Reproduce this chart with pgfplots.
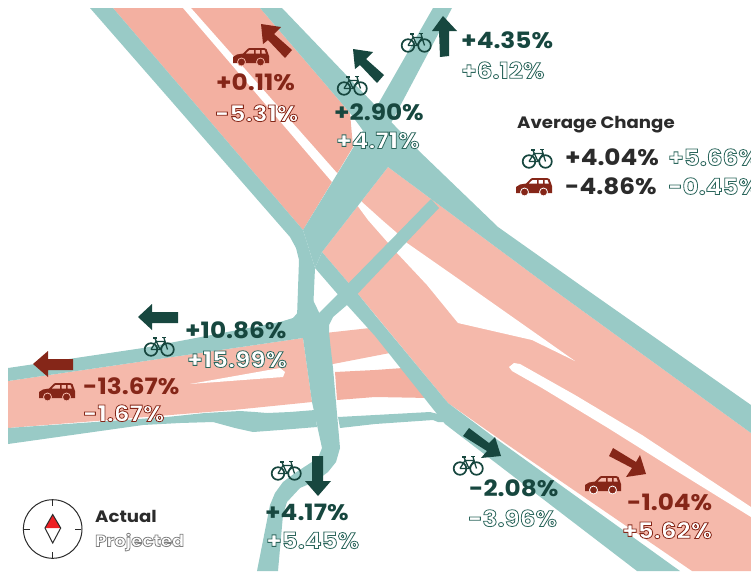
\documentclass[border=0pt]{standalone}
\usepackage{pgfplots}
\pgfplotsset{compat=1.18}
\usepackage{fontspec}
\setmainfont{Poppins}[FakeStretch=1.1]
\definecolor{roadc}{HTML}{99CAC6}
\definecolor{pinkA}{HTML}{F3B0A1}
\definecolor{pinkB}{HTML}{F5B9AB}
\definecolor{gr}{HTML}{17473F}
\definecolor{rd}{HTML}{852618}
\definecolor{ink}{HTML}{2B2B2B}
\definecolor{flag}{HTML}{EE2024}

% filled shape in picture pixels
\newcommand\shape[2]{\addplot[fill=#1,draw=none,forget plot] coordinates {#2} --cycle;}

% text with white fill and a thin outline (rgb as pdf numbers)
\newcommand\outl[2]{{\color{white}\special{pdf:code 2 Tr 0.8 w}\special{pdf:code #1 RG}#2\special{pdf:code 0 Tr}}}
\def\grline{0.17 0.40 0.36}
\def\rdline{0.52 0.15 0.09}
\def\gyline{0.50 0.50 0.50}

% x, y (baseline), size, text
\newcommand\lab[4]{\node[anchor=base west,inner sep=0pt,yshift=-0.5pt,font=\fontsize{#3}{#3}\selectfont\bfseries] at (axis cs:#1,#2) {#4};}

\newcommand\bike[3]{%
\begin{scope}[shift={(axis cs:#1,#2)},draw=#3,line width=1.7pt]
  \draw (-8pt,-3.5pt) circle [radius=6.3pt];
  \draw (8.5pt,-3.5pt) circle [radius=6.3pt];
  \draw[line width=1.3pt] (-8pt,-3.5pt) -- (-3pt,4.5pt) -- (6pt,4.5pt) -- (8.5pt,-3.5pt);
  \draw[line width=1.3pt] (-8pt,-3.5pt) -- (1pt,-3.5pt) -- (6pt,4.5pt);
  \draw[line width=1.3pt] (-4pt,7.5pt) -- (1pt,-3.5pt);
  \draw[line width=1.3pt] (6pt,4.5pt) -- (5pt,8pt);
  \draw[line width=1.7pt] (-6pt,8pt) -- (-2pt,8pt);
  \draw[line width=1.7pt] (3pt,8.5pt) -- (7pt,8.5pt);
\end{scope}}

\newcommand\car[4]{%
\begin{scope}[shift={(axis cs:#1,#2)}]
  \fill[#3,even odd rule] (-18pt,-6pt) -- (-18pt,0pt) -- (-14pt,2.5pt) -- (-8pt,3.5pt) -- (-3pt,8.5pt) -- (-1pt,9pt)
    -- (13pt,9pt) -- (15.5pt,8pt) -- (18pt,1pt) -- (18pt,-6pt) -- cycle
    (-5.5pt,3.5pt) -- (-1.5pt,7.2pt) -- (3pt,7.2pt) -- (3pt,3.5pt) -- cycle
    (4.5pt,3.5pt) -- (4.5pt,7.2pt) -- (9pt,7.2pt) -- (9pt,3.5pt) -- cycle
    (10.5pt,3.5pt) -- (10.5pt,7.2pt) -- (13.5pt,7.2pt) -- (15pt,3.5pt) -- cycle;
  \filldraw[fill=#3,draw=#4,line width=0.8pt] (-9.5pt,-5pt) circle [radius=4pt];
  \filldraw[fill=#3,draw=#4,line width=0.8pt] (9.5pt,-5pt) circle [radius=4pt];
\end{scope}}

\begin{document}
\begin{tikzpicture}
\useasboundingbox (0,0) rectangle (751pt,571pt);
\clip (0,0) rectangle (751pt,571pt);
\begin{axis}[
    at={(0,0)}, anchor=south west,
    width=751pt, height=571pt, scale only axis,
    xmin=0, xmax=751, ymin=0, ymax=571, y dir=reverse,
    hide axis,
]
% pink carriageways
\shape{pinkA}{(113,8) (260,8) (350,113) (353,147) (303,230)}
\shape{pinkB}{(322,252) (388,167) (547,285) (751,433) (751,571) (692,571) (508,445) (448,403) (358,294)}
\shape{pinkB}{(8,381) (303,338) (312,402) (233,410) (8,428)}
\shape{pinkB}{(325,333) (370,328) (395,352) (333,364) (325,364)}
\shape{pinkA}{(335,372) (375,370) (403,368) (430,398) (375,397) (337,400)}
% medians
\shape{white}{(183,8) (191,8) (337,173) (362,202) (382,220) (397,233) (407,243) (460,280) (467,285) (575,361) (532,340) (458,323) (427,285) (397,253) (368,220) (357,205) (332,182)}
\shape{white}{(514,363) (520,364) (575,395) (642,435) (751,507) (751,517) (675,470) (608,428) (542,388) (512,371) (509,367)}
\shape{white}{(190,384) (280,368) (285,372) (283,377)}
% cycle tracks
\shape{roadc}{(90,8) (113,8) (303,230) (315,268) (313,312) (300,330) (297,317) (299,260) (296,248) (290,237)}
\shape{roadc}{(433,8) (452,8) (390,125) (388,167) (322,252) (315,268) (303,230) (353,148)}
\shape{roadc}{(260,8) (282,8) (418,150) (498,227) (580,285) (751,405) (751,433) (547,285) (388,167) (370,140) (350,113)}
\shape{roadc}{(431,199) (439,208) (347,305) (333,317) (329,325) (329,340) (313,340) (313,312) (318,314) (337,295)}
\shape{roadc}{(322,252) (358,294) (375,315) (448,403) (495,438) (680,571) (637,571) (445,424) (375,336) (347,305) (315,268)}
\shape{roadc}{(299,300) (303,338) (312,402) (322,448) (318,458) (295,473) (283,482) (275,493) (270,505) (257,571) (278,571) (283,515) (287,502) (300,488) (316,481) (328,472) (336,462) (340,448) (338,425) (333,368) (329,333) (313,300)}
\shape{roadc}{(8,368) (143,348) (280,322) (293,318) (300,310) (313,325) (303,338) (8,381)}
\shape{roadc}{(8,428) (167,417) (205,413) (240,411) (255,412) (267,413) (290,412) (315,410) (317,427) (280,430) (253,432) (235,428) (213,422) (180,423) (143,425) (8,444)}
\shape{roadc}{(338,417) (375,415) (430,412) (438,414) (446,422) (438,422) (433,420) (375,424) (340,428)}
% arrows
\shape{rd}{(261,24) (281,27) (274,34) (292,50) (285,58) (268,40) (263,44)}
\shape{gr}{(353,49) (373,52) (366,59) (384,75) (377,83) (360,65) (355,69)}
\shape{gr}{(443,16) (457,31) (449,31) (449,56) (440,57) (439,31) (432,31)}
\shape{gr}{(138,317) (152,304) (152,312) (178,312) (178,323) (152,323) (152,330)}
\shape{rd}{(33,364) (48,351) (48,359) (73,359) (73,370) (48,370) (48,377)}
\shape{gr}{(312,456) (323,456) (323,481) (331,481) (318,496) (305,481) (312,481)}
\shape{gr}{(469,428) (489,443) (495,437) (501,456) (481,458) (487,451) (463,436)}
\shape{rd}{(613,448) (636,462) (640,455) (646,474) (626,477) (632,468) (609,456)}
% icons
\car{251}{57}{rd}{pinkA}
\bike{352}{85}{gr}
\bike{416}{42}{gr}
\bike{537}{158}{gr}
\car{534}{187}{rd}{white}
\bike{159}{346}{gr}
\car{57}{392}{rd}{pinkB}
\bike{286}{470}{gr}
\bike{468}{465}{gr}
\car{603}{485}{rd}{white}
% labels
\lab{216}{90}{22.5}{\color{rd}+0.11\%}
\lab{215}{121}{22.5}{\outl{\rdline}{-5.31\%}}
\lab{334}{120}{22.5}{\color{gr}+2.90\%}
\lab{336}{148}{22.5}{\outl{\grline}{+4.71\%}}
\lab{461}{48}{22.5}{\color{gr}+4.35\%}
\lab{461}{78}{22.5}{\outl{\grline}{+6.12\%}}
\lab{517}{128}{16.5}{\color{ink}Average Change}
\lab{565}{165}{22.5}{\color{ink}+4.04\%}
\lab{668}{165}{22.5}{\outl{\grline}{+5.66\%}}
\lab{565}{194}{22.5}{\color{ink}-4.86\%}
\lab{668}{194}{22.5}{\outl{\grline}{-0.45\%}}
\lab{185}{338}{22.5}{\color{gr}+10.86\%}
\lab{187}{367}{22.5}{\outl{\grline}{+15.99\%}}
\lab{83}{394}{22.5}{\color{rd}-13.67\%}
\lab{83}{421}{22.5}{\outl{\rdline}{-1.67\%}}
\lab{265}{520}{22.5}{\color{gr}+4.17\%}
\lab{266}{548}{22.5}{\outl{\grline}{+5.45\%}}
\lab{469}{496}{22.5}{\color{gr}-2.08\%}
\lab{468}{526}{22.5}{\outl{\grline}{-3.96\%}}
\lab{627}{510}{22.5}{\color{rd}-1.04\%}
\lab{622}{538}{22.5}{\outl{\rdline}{+5.62\%}}
\lab{95}{522}{16.5}{\color{ink}Actual}
\lab{95}{546}{16.5}{\outl{\gyline}{Projected}}
% compass
\draw[ink,line width=1pt] (axis cs:52.7,529) circle [radius=29.3pt];
\shape{flag}{(52.7,514.5) (60.7,528) (45,528)}
\addplot[ink,line width=1pt,forget plot] coordinates {(52.7,514.5) (60.7,528) (52.7,543) (45,528)} --cycle;
\addplot[ink,line width=0.8pt,forget plot] coordinates {(52.7,500) (52.7,506)};
\addplot[ink,line width=0.8pt,forget plot] coordinates {(52.7,552) (52.7,558)};
\addplot[ink,line width=0.8pt,forget plot] coordinates {(24,529) (30,529)};
\addplot[ink,line width=0.8pt,forget plot] coordinates {(75,529) (81,529)};
\end{axis}
\end{tikzpicture}
\end{document}
